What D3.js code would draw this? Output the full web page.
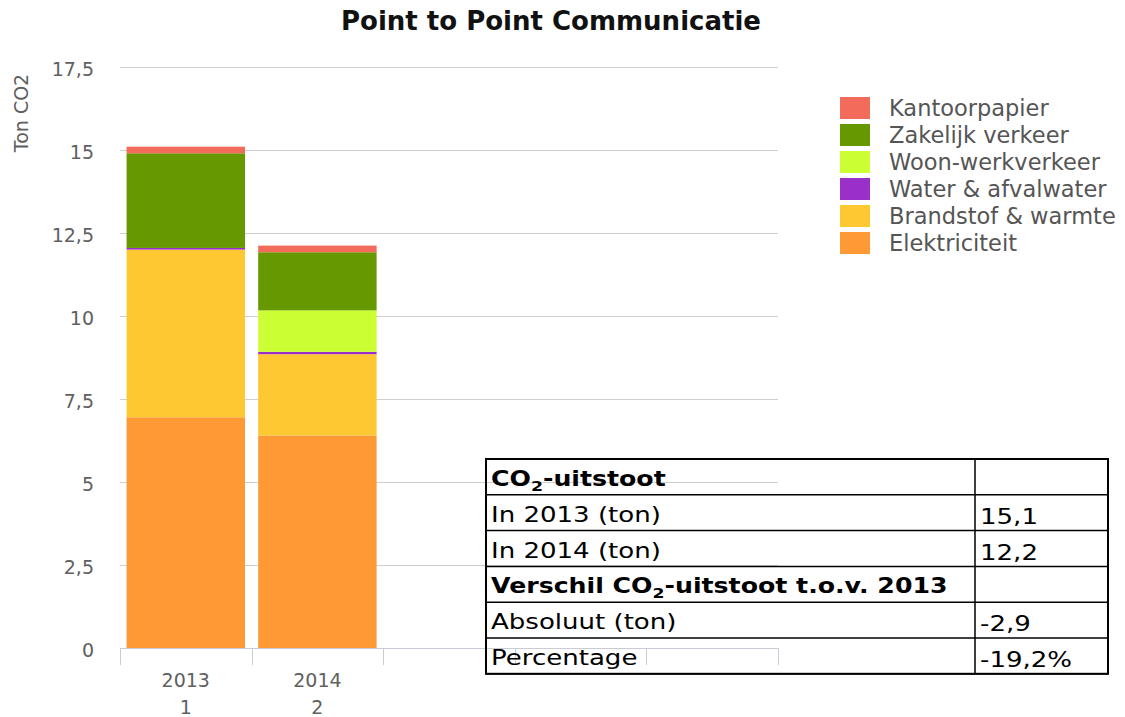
<!DOCTYPE html>
<html>

<head>
  <meta charset="utf-8">
  <title>Point to Point Communicatie</title>
  <style>
    * {
      padding: 0;
      margin: 0;
    }

    body {
      background: #fff;
      font-family: "DejaVu Sans", sans-serif;
    }

    .grid line {
      stroke: #cfcfcf;
    }

    .tick-label {
      fill: #606060;
      font-size: 19px;
    }

    .legend text {
      fill: #555;
      font-size: 22.5px;
    }
  </style>
</head>

<body>
  <svg id="svg"></svg>
  <script src="https://cdnjs.cloudflare.com/ajax/libs/d3/7.8.5/d3.min.js"></script>
  <script>
    // data
    const years = ['2013', '2014'];
    const yearIndex = ['1', '2'];
    const slots = ['2013', '2014', 's3', 's4', 's5'];
    const series = ['Elektriciteit', 'Brandstof & warmte', 'Water & afvalwater', 'Woon-werkverkeer', 'Zakelijk verkeer', 'Kantoorpapier'];
    const colors = ['#fd9a35', '#fec832', '#9b30c8', '#ccff33', '#669900', '#f26b5b'];
    const elektriciteit = [6.95, 6.4];
    const brandstof = [5.05, 2.45];
    const water = [0.05, 0.07];
    const woonWerk = [0, 1.25];
    const zakelijk = [2.85, 1.75];
    const kantoorpapier = [0.2, 0.2];
    const yTicks = [0, 2.5, 5, 7.5, 10, 12.5, 15, 17.5];

    const tableRows = [
      { label: ['CO', '2', '-uitstoot'], value: '', bold: true },
      { label: ['In 2013 (ton)'], value: '15,1' },
      { label: ['In 2014 (ton)'], value: '12,2' },
      { label: ['Verschil CO', '2', '-uitstoot t.o.v. 2013'], value: '', bold: true },
      { label: ['Absoluut (ton)'], value: '-2,9' },
      { label: ['Percentage'], value: '-19,2%' }
    ];

    const W = 1125, H = 717;
    const plot = { left: 120, right: 778, top: 67, bottom: 648 };

    const svg = d3.select('#svg').attr('width', W).attr('height', H);

    const rows = years.map((y, i) => ({
      year: y,
      'Elektriciteit': elektriciteit[i],
      'Brandstof & warmte': brandstof[i],
      'Water & afvalwater': water[i],
      'Woon-werkverkeer': woonWerk[i],
      'Zakelijk verkeer': zakelijk[i],
      'Kantoorpapier': kantoorpapier[i]
    }));

    const xScale = d3.scaleBand().domain(slots).range([plot.left, plot.right]).paddingInner(0.1).paddingOuter(0.05);
    const yScale = d3.scaleLinear().domain([0, 17.5]).range([plot.bottom, plot.top]);
    const color = d3.scaleOrdinal().domain(series).range(colors);

    // title
    svg.append('text')
      .attr('x', 551).attr('y', 30)
      .attr('text-anchor', 'middle')
      .style('font-size', '26px').style('font-weight', 'bold').style('fill', '#111')
      .text('Point to Point Communicatie');

    // y axis label
    svg.append('text')
      .attr('transform', 'translate(28, 113) rotate(-90)')
      .attr('text-anchor', 'middle')
      .style('font-size', '19px').style('fill', '#606060')
      .text('Ton CO2');

    // grid
    svg.append('g').attr('class', 'grid')
      .selectAll('line')
      .data(yTicks.filter(d => d > 0))
      .enter()
      .append('line')
      .attr('x1', plot.left).attr('x2', plot.right)
      .attr('y1', d => yScale(d) + 0.5).attr('y2', d => yScale(d) + 0.5);

    svg.append('g')
      .selectAll('text')
      .data(yTicks)
      .enter()
      .append('text')
      .attr('class', 'tick-label')
      .attr('x', 94).attr('y', d => yScale(d) + 9)
      .attr('text-anchor', 'end')
      .text(d => String(d).replace('.', ','));

    // stacked bars
    const stacked = d3.stack().keys(series)(rows);
    svg.append('g')
      .selectAll('g')
      .data(stacked)
      .enter()
      .append('g')
      .attr('fill', d => color(d.key))
      .selectAll('rect')
      .data(d => d)
      .enter()
      .append('rect')
      .attr('x', d => xScale(d.data.year))
      .attr('y', d => yScale(d[1]))
      .attr('width', xScale.bandwidth())
      .attr('height', d => yScale(d[0]) - yScale(d[1]));

    // x axis
    const xAxis = svg.append('g').attr('transform', `translate(0, ${plot.bottom})`);
    xAxis.append('line')
      .attr('x1', plot.left).attr('x2', plot.right)
      .attr('y1', 0.5).attr('y2', 0.5)
      .attr('stroke', '#c8ccd4');
    const edges = slots.map(s => xScale(s) - xScale.step() * xScale.paddingInner() / 2).concat([plot.right]);
    xAxis.selectAll('.edge')
      .data(edges)
      .enter()
      .append('line')
      .attr('x1', d => Math.round(d) + 0.5).attr('x2', d => Math.round(d) + 0.5)
      .attr('y1', 0).attr('y2', 17)
      .attr('stroke', '#c8ccd4');
    years.forEach((y, i) => {
      const cx = xScale(y) + xScale.bandwidth() / 2;
      xAxis.append('text').attr('class', 'tick-label')
        .attr('x', cx).attr('y', 39).attr('text-anchor', 'middle').text(y);
      xAxis.append('text').attr('class', 'tick-label')
        .attr('x', cx).attr('y', 66).attr('text-anchor', 'middle').text(yearIndex[i]);
    });

    // legend
    const legend = svg.append('g').attr('class', 'legend')
      .selectAll('g')
      .data(series.slice().reverse())
      .enter()
      .append('g')
      .attr('transform', (d, i) => `translate(840, ${97 + i * 27})`);
    legend.append('rect').attr('width', 30).attr('height', 22).attr('fill', d => color(d));
    legend.append('text').attr('x', 49).attr('y', 19).text(d => d);

    // table
    const tbl = { x: 486, y: 459, w: 622, rowH: 35.8, split: 975 };
    const table = svg.append('g').style('font-family', 'Verdana, "DejaVu Sans", sans-serif');
    tableRows.forEach((r, i) => {
      const y0 = tbl.y + i * tbl.rowH;
      table.append('line')
        .attr('x1', tbl.x).attr('x2', tbl.x + tbl.w)
        .attr('y1', y0 + tbl.rowH).attr('y2', y0 + tbl.rowH)
        .attr('stroke', '#000').attr('stroke-width', 1.5);
      const sx = r.bold ? 1.23 : 1.27;
      const t = table.append('text')
        .attr('transform', `translate(${tbl.x + 5}, ${y0 + 27}) scale(${sx}, 1)`)
        .style('font-size', '20.5px')
        .style('font-weight', r.bold ? 'bold' : 'normal');
      r.label.forEach((part, k) => {
        const sp = t.append('tspan').text(part);
        if (k === 1) sp.attr('dy', 5).style('font-size', '14px');
        if (k === 2) sp.attr('dy', -5);
      });
      table.append('text')
        .attr('transform', `translate(${tbl.split + 5}, ${y0 + 29}) scale(1.27, 1)`)
        .style('font-size', '20.5px')
        .text(r.value);
    });
    table.append('rect')
      .attr('x', tbl.x).attr('y', tbl.y)
      .attr('width', tbl.w).attr('height', tbl.rowH * tableRows.length)
      .attr('fill', 'none').attr('stroke', '#000').attr('stroke-width', 2);
    table.append('line')
      .attr('x1', tbl.split).attr('x2', tbl.split)
      .attr('y1', tbl.y).attr('y2', tbl.y + tbl.rowH * tableRows.length)
      .attr('stroke', '#000').attr('stroke-width', 1.5);
  </script>
</body>

</html>
